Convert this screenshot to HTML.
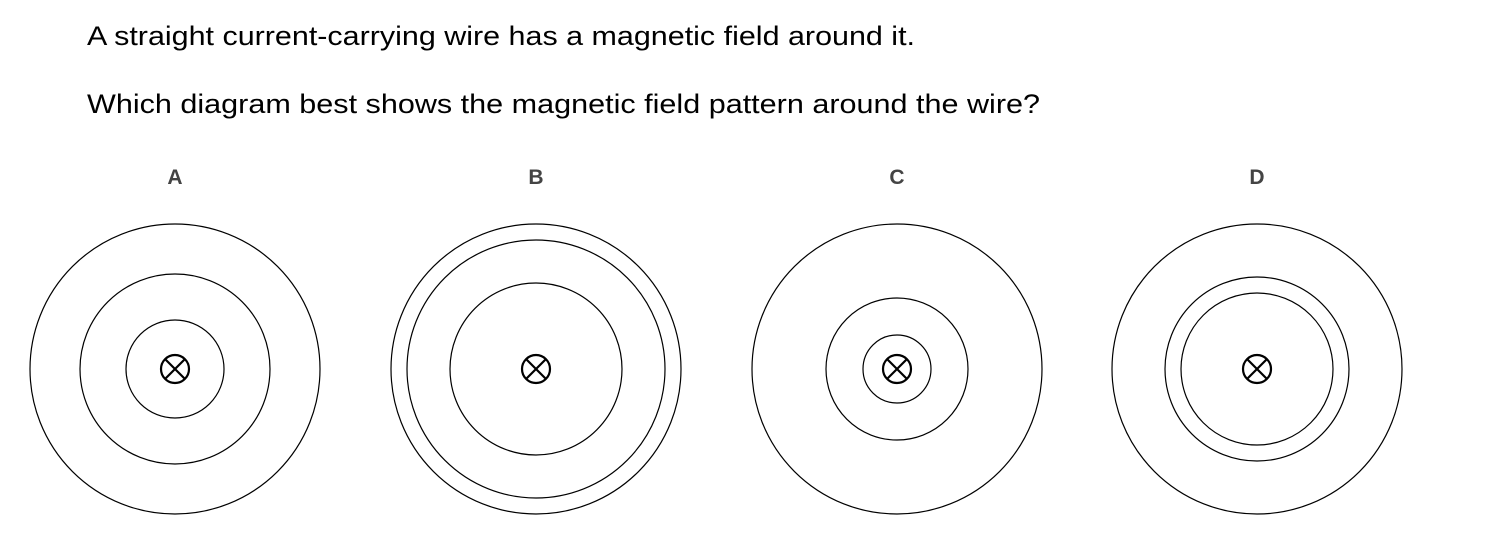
<!DOCTYPE html>
<html><head><meta charset="utf-8"><style>
body{margin:0;background:#fff;width:1498px;height:543px;overflow:hidden}
</style></head><body>
<svg width="1498" height="543" xmlns="http://www.w3.org/2000/svg" font-family="Liberation Sans, Arial, sans-serif">
<text x="87" y="45" font-size="27" fill="#000" textLength="828" lengthAdjust="spacingAndGlyphs">A straight current-carrying wire has a magnetic field around it.</text>
<text x="87" y="113" font-size="27" fill="#000" textLength="953" lengthAdjust="spacingAndGlyphs">Which diagram best shows the magnetic field pattern around the wire?</text>
<g font-size="21" font-weight="bold" fill="#444" text-anchor="middle">
<text x="175" y="184">A</text><text x="536" y="184">B</text><text x="897" y="184">C</text><text x="1257" y="184">D</text>
</g>
<g fill="none" stroke="#000" stroke-width="1.2">
<circle cx="175" cy="369" r="145"/><circle cx="175" cy="369" r="95"/><circle cx="175" cy="369" r="49"/>
<circle cx="536" cy="369" r="145"/><circle cx="536" cy="369" r="129"/><circle cx="536" cy="369" r="86"/>
<circle cx="897" cy="369" r="145"/><circle cx="897" cy="369" r="71"/><circle cx="897" cy="369" r="34"/>
<circle cx="1257" cy="369" r="145"/><circle cx="1257" cy="369" r="92"/><circle cx="1257" cy="369" r="76"/>
</g>
<g fill="none" stroke="#000" stroke-width="2.2">
<g transform="translate(175,369)"><circle r="14"/><path d="M-10,-10L10,10M-10,10L10,-10"/></g>
<g transform="translate(536,369)"><circle r="14"/><path d="M-10,-10L10,10M-10,10L10,-10"/></g>
<g transform="translate(897,369)"><circle r="14"/><path d="M-10,-10L10,10M-10,10L10,-10"/></g>
<g transform="translate(1257,369)"><circle r="14"/><path d="M-10,-10L10,10M-10,10L10,-10"/></g>
</g>
</svg>
</body></html>
